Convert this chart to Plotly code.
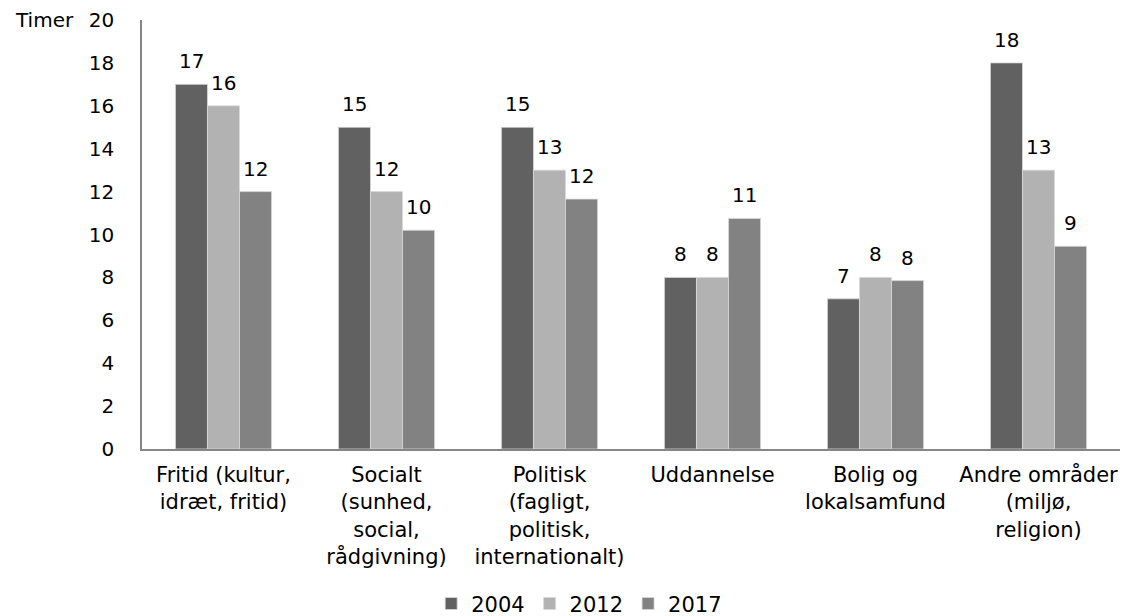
import plotly.graph_objects as go

categories = [
    "Fritid (kultur,<br>idræt, fritid)",
    "Socialt<br>(sunhed,<br>social,<br>rådgivning)",
    "Politisk<br>(fagligt,<br>politisk,<br>internationalt)",
    "Uddannelse",
    "Bolig og<br>lokalsamfund",
    "Andre områder<br>(miljø,<br>religion)",
]
years = ["2004", "2012", "2017"]
v2004 = [17.0, 15.0, 15.0, 8.0, 7.0, 18.0]
v2012 = [16.0, 12.0, 13.0, 8.0, 8.0, 13.0]
v2017 = [12.0, 10.2, 11.65, 10.75, 7.85, 9.45]
y_ticks = [0, 2, 4, 6, 8, 10, 12, 14, 16, 18, 20]

colors = ["#616161", "#b2b2b2", "#828282"]
FONT = "DejaVu Sans, Verdana, sans-serif"
BARGAP = 0.41
xpos = list(range(len(categories)))
bw = (1 - BARGAP) / len(years)

fig = go.Figure()
annotations = []
for j, (name, vals, col) in enumerate(zip(years, [v2004, v2012, v2017], colors)):
    fig.add_trace(go.Bar(
        name=name, x=xpos, y=vals,
        marker=dict(color=col, line=dict(color="#d9d9d9", width=0.8)),
        cliponaxis=False,
    ))
    for i, v in zip(xpos, vals):
        annotations.append(dict(
            x=i + (j - 1) * bw, y=v, xref="x", yref="y", text=f"{v:.0f}",
            showarrow=False, yanchor="bottom", yshift=9,
            font=dict(size=20, color="black", family=FONT)))

annotations.append(dict(text="Timer", x=-0.132, xref="paper", y=1.0, yref="paper",
                        xanchor="left", yanchor="middle", showarrow=False,
                        font=dict(size=20, family=FONT)))

fig.update_layout(
    width=1136, height=608,
    margin=dict(l=134, r=24, t=12, b=167),
    paper_bgcolor="white", plot_bgcolor="white",
    barmode="group", bargap=BARGAP, bargroupgap=0,
    font=dict(family=FONT, size=20, color="black"),
    showlegend=True,
    legend=dict(orientation="h", x=0.447, xanchor="center", yref="container",
                y=0.02, yanchor="middle", font=dict(size=21), itemwidth=30,
                tracegroupgap=0),
    annotations=annotations,
)
fig.update_xaxes(range=[-0.5, len(categories) - 0.5], tickvals=xpos, ticktext=categories,
                 showline=True, linecolor="#868686", linewidth=1.5, showgrid=False,
                 zeroline=False, ticks="", tickfont=dict(size=21), tickangle=0,
                 automargin=False, ticklabelstandoff=6)
fig.update_yaxes(range=[0, 20], tickvals=y_ticks, showline=True, linecolor="#868686",
                 linewidth=1.5, showgrid=False, zeroline=False, ticks="",
                 tickfont=dict(size=20), ticklabelstandoff=22, automargin=False)

fig.write_html("out.html")
